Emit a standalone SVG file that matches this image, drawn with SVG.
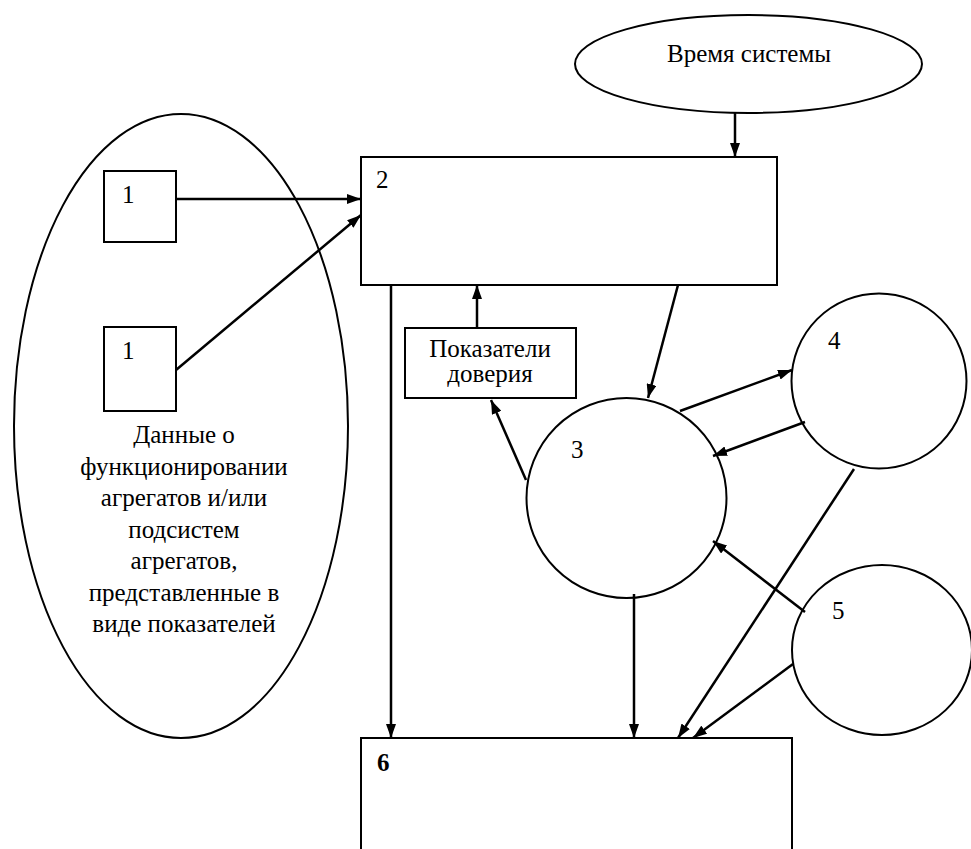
<svg xmlns="http://www.w3.org/2000/svg" width="971" height="849" viewBox="0 0 971 849">
<defs>
<marker id="ah" viewBox="0 0 14 10" refX="14" refY="5" markerWidth="14" markerHeight="10" orient="auto" markerUnits="userSpaceOnUse"><path d="M0,0 L14,5 L0,10 z" fill="#000"/></marker>
<style>
.sh{fill:none;stroke:#000;stroke-width:2}
.bx{fill:#fff;stroke:#000;stroke-width:2}
.cn line{stroke:#000;stroke-width:2.5;marker-end:url(#ah)}
text{font-family:"Liberation Serif","Times New Roman",serif;font-size:25px;fill:#000}
.c{text-anchor:middle}
</style>
</defs>
<rect width="971" height="849" fill="#fff"/>
<g id="data-ellipse">
<ellipse class="sh" cx="181" cy="426" rx="167" ry="312"/>
<text class="c" x="184"><tspan x="184" y="443">Данные о</tspan><tspan x="184" y="474.5">функционировании</tspan><tspan x="184" y="506">агрегатов и/или</tspan><tspan x="184" y="537.5">подсистем</tspan><tspan x="184" y="569">агрегатов,</tspan><tspan x="184" y="600.5">представленные в</tspan><tspan x="184" y="632">виде показателей</tspan></text>
</g>
<g id="node-1a"><rect class="bx" x="104" y="171" width="72" height="71"/><text x="122" y="203">1</text></g>
<g id="node-1b"><rect class="bx" x="104" y="327" width="72" height="84"/><text x="122" y="359">1</text></g>
<g id="time"><ellipse class="sh" cx="748.5" cy="64" rx="173.5" ry="49"/><text class="c" x="749" y="62">Время системы</text></g>
<g id="node-2"><rect class="bx" x="361" y="157" width="416" height="128"/><text x="376" y="188">2</text></g>
<g id="trust"><rect class="bx" x="405" y="328" width="171" height="70"/><text class="c" x="490" y="357">Показатели</text><text class="c" x="490" y="382">доверия</text></g>
<g id="node-3"><circle class="sh" cx="626.5" cy="498" r="100"/><text x="571" y="458">3</text></g>
<g id="node-4"><circle class="sh" cx="879" cy="381" r="87.5"/><text x="828" y="349">4</text></g>
<g id="node-5"><ellipse class="sh" cx="882" cy="650" rx="90" ry="85"/><text x="832" y="619">5</text></g>
<g id="node-6"><rect class="bx" x="361" y="738" width="431" height="130"/><text x="377" y="771" font-weight="bold">6</text></g>
<g id="connectors" class="cn">
<line x1="176" y1="199" x2="361" y2="199"/>
<line x1="176" y1="370" x2="361" y2="215"/>
<line x1="735" y1="113" x2="735" y2="157"/>
<line x1="477" y1="328" x2="477" y2="285"/>
<line x1="391" y1="285" x2="391" y2="738"/>
<line x1="678" y1="285" x2="648" y2="398"/>
<line x1="526" y1="480" x2="491" y2="400"/>
<line x1="680" y1="411" x2="792" y2="370"/>
<line x1="805" y1="422" x2="713" y2="456"/>
<line x1="805" y1="612" x2="713" y2="541"/>
<line x1="634" y1="594" x2="634" y2="738"/>
<line x1="854" y1="469" x2="678" y2="738"/>
<line x1="793" y1="664" x2="693" y2="738"/>
</g>
</svg>
